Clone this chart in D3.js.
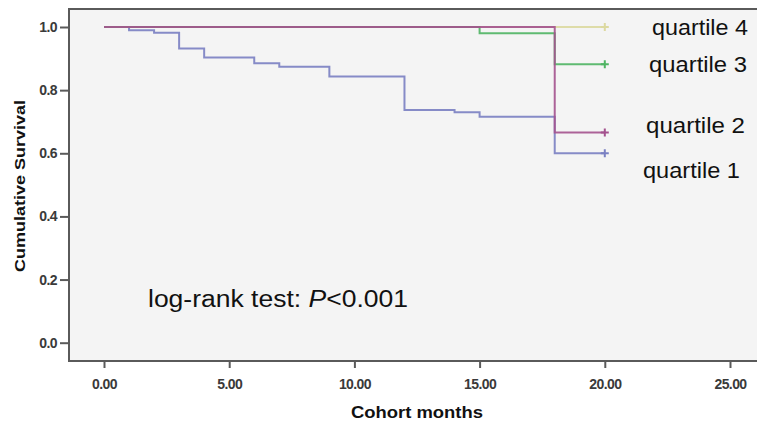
<!DOCTYPE html>
<html>
<head>
<meta charset="utf-8">
<script src="https://cdn.jsdelivr.net/npm/d3@7"></script>
<style>
  body { margin: 0; background: #fff; }
  svg { display: block; font-family: "Liberation Sans", Arial, sans-serif; }
</style>
</head>
<body>
<script>
let w = 757;
let h = 422;

// survival curves (Kaplan-Meier, step after)
let q1Times = [0, 1, 2, 3, 4, 6, 7, 9, 12, 14, 15, 18, 20];
let q1Surv  = [1, 0.99, 0.982, 0.932, 0.903, 0.885, 0.874, 0.843, 0.737, 0.730, 0.716, 0.600, 0.600];
let q2Times = [0, 18, 20];
let q2Surv  = [1, 0.666, 0.666];
let q3Times = [0, 15, 18, 20];
let q3Surv  = [1, 0.980, 0.882, 0.882];
let q4Times = [0, 20];
let q4Surv  = [1, 1];

let xTicks = [0, 5, 10, 15, 20, 25];
let yTicks = [0, 0.2, 0.4, 0.6, 0.8, 1.0];
let labels = ["quartile 1", "quartile 2", "quartile 3", "quartile 4"];

let plotLeft = 69, plotTop = 9, plotBottom = 361;

let svg = d3.select("body").append("svg").attr("width", w).attr("height", h);

let xScale = d3.scaleLinear().domain([0, 25]).range([104, 730]);
let yScale = d3.scaleLinear().domain([0, 1]).range([342.7, 27]);

// plot background
svg.append("rect")
  .attr("x", plotLeft).attr("y", plotTop)
  .attr("width", w - plotLeft).attr("height", plotBottom - plotTop)
  .attr("fill", "#f4f4f4");

// frame
svg.append("path")
  .attr("d", "M" + w + "," + plotTop + "H" + plotLeft + "V" + plotBottom + "H" + w)
  .attr("fill", "none").attr("stroke", "#5a5a5a").attr("stroke-width", 2);

const xAxis = d3.axisBottom(xScale).tickValues(xTicks).tickFormat(d3.format(".2f")).tickSize(7).tickPadding(11);
const yAxis = d3.axisLeft(yScale).tickValues(yTicks).tickFormat(d3.format(".1f")).tickSize(9).tickPadding(3);

let gx = svg.append("g").attr("transform", "translate(0," + plotBottom + ")").call(xAxis);
let gy = svg.append("g").attr("transform", "translate(" + plotLeft + ",0)").call(yAxis);
[gx, gy].forEach(g => {
  g.attr("font-size", null).attr("font-family", null);
  g.select(".domain").remove();
  g.selectAll(".tick line").attr("stroke", "#5a5a5a").attr("stroke-width", 2);
  g.selectAll(".tick text")
    .attr("fill", "#3a3a3a")
    .style("font-size", "14px")
    .style("font-weight", "bold")
    .style("letter-spacing", "-0.6px")
    .style("font-family", "'Liberation Sans', Arial, sans-serif");
});

let series = [
  { name: labels[0], t: q1Times, s: q1Surv, color: "#7a80c2" },
  { name: labels[3], t: q4Times, s: q4Surv, color: "#dcd9a0" },
  { name: labels[2], t: q3Times, s: q3Surv, color: "#4fb463" },
  { name: labels[1], t: q2Times, s: q2Surv, color: "#a4528e" }
];

const line = d3.line()
  .x(d => xScale(d[0]))
  .y(d => yScale(d[1]))
  .curve(d3.curveStepAfter);

series.forEach(sr => {
  let pts = sr.t.map((t, i) => [t, sr.s[i]]);
  svg.append("path")
    .datum(pts)
    .attr("fill", "none")
    .attr("stroke", sr.color)
    .attr("stroke-width", 2)
    .attr("stroke-opacity", 0.9)
    .attr("d", line);
  // censor mark (+) at last time
  let last = pts[pts.length - 1];
  let cx = xScale(last[0]), cy = yScale(last[1]);
  svg.append("path")
    .attr("d", "M" + cx + "," + (cy - 4) + "v8M" + (cx - 4) + "," + cy + "h8")
    .attr("stroke", sr.color)
    .attr("stroke-width", 2);
});

// curve labels
let labelPos = [
  { text: labels[3], x: 652, y: 35, len: 96 },
  { text: labels[2], x: 649, y: 72, len: 98 },
  { text: labels[1], x: 646, y: 133, len: 99 },
  { text: labels[0], x: 643, y: 178, len: 97 }
];
svg.selectAll("text.qlabel")
  .data(labelPos)
  .enter()
  .append("text")
  .attr("class", "qlabel")
  .attr("x", d => d.x)
  .attr("y", d => d.y)
  .attr("font-size", "22px")
  .attr("fill", "#111")
  .attr("textLength", d => d.len)
  .attr("lengthAdjust", "spacingAndGlyphs")
  .text(d => d.text);

// log-rank annotation
let lr = svg.append("text")
  .attr("x", 148).attr("y", 307)
  .attr("font-size", "23px")
  .attr("fill", "#111")
  .attr("textLength", 260)
  .attr("lengthAdjust", "spacingAndGlyphs");
lr.append("tspan").text("log-rank test: ");
lr.append("tspan").attr("font-style", "italic").text("P");
lr.append("tspan").text("<0.001");

// axis titles
svg.append("text")
  .attr("x", 417).attr("y", 418)
  .attr("text-anchor", "middle")
  .attr("font-size", "16px")
  .attr("font-weight", "bold")
  .attr("fill", "#111")
  .attr("textLength", 132)
  .attr("lengthAdjust", "spacingAndGlyphs")
  .text("Cohort months");

svg.append("text")
  .attr("transform", "translate(25,186) rotate(-90)")
  .attr("text-anchor", "middle")
  .attr("font-size", "15px")
  .attr("font-weight", "bold")
  .attr("fill", "#111")
  .attr("textLength", 172)
  .attr("lengthAdjust", "spacingAndGlyphs")
  .text("Cumulative Survival");
</script>
</body>
</html>
